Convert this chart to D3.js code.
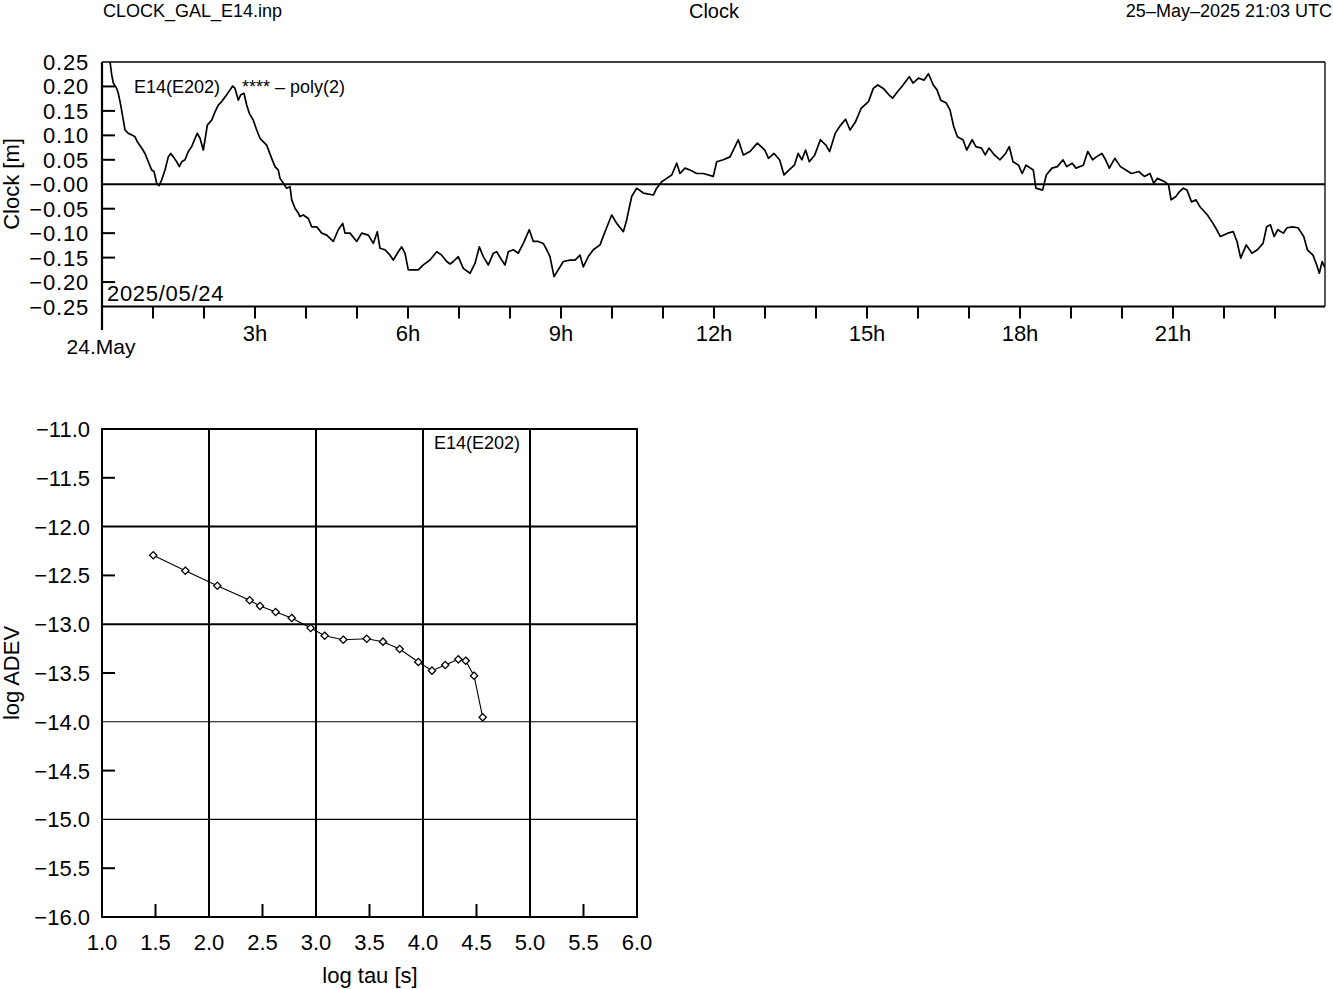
<!DOCTYPE html>
<html><head><meta charset="utf-8">
<script src="https://cdn.jsdelivr.net/npm/d3@7"></script>
<style>
html,body{margin:0;padding:0;background:#fff;}
svg{display:block;font-family:"Liberation Sans",Arial,sans-serif;}
</style></head>
<body>
<svg id="c" width="1333" height="989"></svg>
<script>
// ---------- data ----------
const headerLeft = "CLOCK_GAL_E14.inp";
const headerTitle = "Clock";
const headerRight = "25\u2013May\u20132025 21:03 UTC";
const satLabel = "E14(E202)";
const fitLabel = "**** \u2013 poly(2)";
const dateLabel = "2025/05/24";

// clock series: hours since 2025-05-24 00:00 UTC, values in metres
const clockHours = [0,0.157,0.19,0.222,0.288,0.32,0.367,0.418,0.451,0.516,0.582,0.647,0.692,0.778,0.843,0.908,0.975,1.02,1.073,1.118,1.171,1.235,1.3,1.347,1.398,1.465,1.516,1.563,1.627,1.692,1.759,1.824,1.869,1.922,1.986,2.02,2.065,2.151,2.216,2.28,2.347,2.445,2.51,2.563,2.608,2.673,2.72,2.784,2.837,2.888,2.967,3.033,3.098,3.229,3.327,3.392,3.457,3.49,3.555,3.621,3.686,3.72,3.784,3.849,3.882,3.947,4.045,4.112,4.21,4.308,4.406,4.535,4.633,4.72,4.765,4.863,4.994,5.092,5.222,5.32,5.398,5.451,5.549,5.647,5.712,5.81,5.876,5.941,6.006,6.104,6.202,6.3,6.431,6.563,6.661,6.759,6.824,6.888,6.986,7.084,7.216,7.314,7.398,7.476,7.575,7.673,7.739,7.837,7.902,7.967,8.065,8.163,8.261,8.378,8.457,8.555,8.653,8.72,8.784,8.863,8.947,9.045,9.176,9.275,9.373,9.437,9.535,9.633,9.765,9.863,9.994,10.092,10.222,10.288,10.386,10.484,10.614,10.81,10.876,10.975,11.073,11.171,11.269,11.333,11.431,11.529,11.661,11.79,11.986,12.053,12.182,12.314,12.378,12.476,12.575,12.706,12.851,12.996,13.069,13.176,13.286,13.373,13.469,13.576,13.649,13.724,13.796,13.869,13.976,14.086,14.194,14.267,14.376,14.484,14.58,14.667,14.776,14.884,15.029,15.124,15.212,15.32,15.429,15.502,15.575,15.684,15.829,15.902,16.01,16.12,16.206,16.3,16.373,16.445,16.555,16.627,16.7,16.773,16.882,16.955,17.063,17.135,17.245,17.318,17.392,17.498,17.608,17.718,17.79,17.863,17.971,18.043,18.118,18.261,18.312,18.443,18.516,18.626,18.733,18.843,18.916,19.024,19.098,19.241,19.329,19.424,19.496,19.606,19.678,19.751,19.859,19.969,20.076,20.186,20.331,20.439,20.549,20.622,20.694,20.839,20.912,20.963,21.057,21.129,21.202,21.275,21.363,21.451,21.529,21.675,21.784,21.857,21.929,22.075,22.182,22.255,22.327,22.437,22.547,22.655,22.765,22.837,22.91,22.982,23.055,23.163,23.235,23.345,23.451,23.563,23.635,23.745,23.818,23.869,23.925,23.98];
const clockValues = [0.294,0.251,0.224,0.207,0.196,0.186,0.162,0.131,0.111,0.104,0.101,0.097,0.087,0.074,0.063,0.046,0.029,0.026,0.002,-0.003,0.009,0.029,0.056,0.063,0.056,0.046,0.036,0.046,0.05,0.067,0.077,0.094,0.104,0.094,0.07,0.091,0.121,0.131,0.148,0.162,0.169,0.183,0.193,0.201,0.196,0.172,0.183,0.186,0.162,0.145,0.131,0.111,0.094,0.08,0.053,0.036,0.029,0.012,0.002,-0.008,-0.005,-0.032,-0.049,-0.059,-0.066,-0.063,-0.07,-0.087,-0.087,-0.1,-0.104,-0.117,-0.093,-0.08,-0.1,-0.1,-0.117,-0.1,-0.104,-0.121,-0.097,-0.131,-0.134,-0.145,-0.155,-0.138,-0.128,-0.141,-0.175,-0.175,-0.175,-0.165,-0.155,-0.138,-0.145,-0.158,-0.163,-0.158,-0.148,-0.172,-0.182,-0.162,-0.128,-0.148,-0.165,-0.141,-0.138,-0.155,-0.165,-0.138,-0.134,-0.141,-0.121,-0.093,-0.117,-0.117,-0.121,-0.134,-0.148,-0.189,-0.175,-0.158,-0.155,-0.155,-0.145,-0.169,-0.148,-0.134,-0.124,-0.097,-0.063,-0.08,-0.097,-0.073,-0.025,-0.008,-0.018,-0.022,-0.008,0.005,0.012,0.019,0.043,0.022,0.033,0.029,0.022,0.022,0.016,0.046,0.05,0.056,0.07,0.091,0.06,0.067,0.084,0.07,0.053,0.063,0.05,0.019,0.029,0.039,0.063,0.05,0.07,0.046,0.06,0.091,0.08,0.067,0.104,0.121,0.133,0.111,0.128,0.155,0.169,0.196,0.203,0.196,0.183,0.176,0.186,0.2,0.22,0.207,0.217,0.213,0.226,0.203,0.193,0.172,0.166,0.152,0.118,0.097,0.091,0.07,0.091,0.077,0.074,0.06,0.074,0.06,0.05,0.063,0.077,0.046,0.039,0.022,0.039,0.029,-0.008,-0.012,0.019,0.033,0.036,0.05,0.036,0.043,0.033,0.039,0.067,0.05,0.056,0.063,0.05,0.033,0.053,0.036,0.029,0.022,0.026,0.016,0.022,0.002,0.012,0.005,-0.001,-0.032,-0.025,-0.015,-0.008,-0.012,-0.036,-0.032,-0.046,-0.063,-0.08,-0.093,-0.107,-0.1,-0.097,-0.117,-0.151,-0.124,-0.141,-0.134,-0.121,-0.087,-0.083,-0.107,-0.093,-0.1,-0.089,-0.087,-0.089,-0.107,-0.134,-0.145,-0.165,-0.182,-0.158,-0.171];

const clockYTicks = [0.25,0.20,0.15,0.10,0.05,0.00,-0.05,-0.10,-0.15,-0.20,-0.25];
const clockYLabels = ["0.25","0.20","0.15","0.10","0.05","\u22120.00","\u22120.05","\u22120.10","\u22120.15","\u22120.20","\u22120.25"];
const clockXTicks = [0,3,6,9,12,15,18,21];
const clockXLabels = ["24.May","3h","6h","9h","12h","15h","18h","21h"];

// Allan deviation
const logTau  = [1.479,1.779,2.078,2.380,2.477,2.623,2.773,2.950,3.081,3.255,3.474,3.626,3.782,3.956,4.084,4.208,4.330,4.399,4.477,4.558];
const logAdev = [-12.294,-12.452,-12.606,-12.755,-12.814,-12.875,-12.936,-13.039,-13.118,-13.159,-13.149,-13.179,-13.254,-13.387,-13.476,-13.418,-13.360,-13.374,-13.528,-13.954];
const adevXTicks = [1.0,1.5,2.0,2.5,3.0,3.5,4.0,4.5,5.0,5.5,6.0];
const adevYTicks = [-11.0,-11.5,-12.0,-12.5,-13.0,-13.5,-14.0,-14.5,-15.0,-15.5,-16.0];

// ---------- drawing ----------
const svg = d3.select("#c");
const FS = 22;
const minus = s => s.replace("-", "\u2212");

// header
svg.append("text").attr("x",103).attr("y",17).attr("font-size",18).text(headerLeft);
svg.append("text").attr("x",714).attr("y",18).attr("font-size",20).attr("text-anchor","middle").text(headerTitle);
svg.append("text").attr("x",1332).attr("y",17).attr("font-size",18).attr("text-anchor","end").text(headerRight);

// ---- top clock chart ----
const L = 102, R = 1325, T = 62, B = 306.5;
const x = d3.scaleLinear().domain([0,24]).range([L,R+1]);
const y = d3.scaleLinear().domain([-0.25,0.25]).range([B,T]);

svg.append("defs").append("clipPath").attr("id","clipTop")
  .append("rect").attr("x",L).attr("y",T).attr("width",R-L).attr("height",B-T);

// frame
svg.append("line").attr("x1",L).attr("x2",R).attr("y1",T).attr("y2",T).attr("stroke","#000").attr("stroke-width",1.3);
svg.append("line").attr("x1",R).attr("x2",R).attr("y1",T).attr("y2",B).attr("stroke","#000").attr("stroke-width",1.3);
svg.append("line").attr("x1",L).attr("x2",R).attr("y1",B).attr("y2",B).attr("stroke","#000").attr("stroke-width",2.2);
svg.append("line").attr("x1",L).attr("x2",L).attr("y1",T).attr("y2",330).attr("stroke","#000").attr("stroke-width",2.2);

// y ticks (inward) and labels
svg.append("g").selectAll("line").data(clockYTicks.filter(v=>Math.abs(v)<0.24 && v!==0)).join("line")
  .attr("x1",L).attr("x2",L+13).attr("y1",d=>y(d)).attr("y2",d=>y(d))
  .attr("stroke","#000").attr("stroke-width",2);
svg.append("g").selectAll("text").data(clockYTicks).join("text")
  .attr("x",89).attr("y",d=>y(d)+8).attr("text-anchor","end").attr("font-size",FS)
  .attr("letter-spacing",0.8)
  .text((d,i)=>clockYLabels[i]);

// zero line
svg.append("line").attr("x1",L).attr("x2",R).attr("y1",y(0)).attr("y2",y(0)).attr("stroke","#000").attr("stroke-width",2.2);

// x ticks hourly (outward)
svg.append("g").selectAll("line").data(d3.range(1,24)).join("line")
  .attr("x1",d=>x(d)).attr("x2",d=>x(d)).attr("y1",B).attr("y2",B+12)
  .attr("stroke","#000").attr("stroke-width",2);
svg.append("g").selectAll("text").data(clockXTicks).join("text")
  .attr("x",d=>d===0?x(d)-1:x(d)).attr("y",d=>d===0?354:341)
  .attr("text-anchor","middle").attr("font-size",d=>d===0?21:FS)
  .text((d,i)=>clockXLabels[i]);

svg.append("text").attr("transform","translate(19,184) rotate(-90)").attr("text-anchor","middle")
  .attr("font-size",FS).text("Clock [m]");

// series
const line = d3.line().x((d,i)=>x(clockHours[i])).y(d=>y(d));
svg.append("path").datum(clockValues).attr("clip-path","url(#clipTop)")
  .attr("d",line).attr("fill","none").attr("stroke","#000").attr("stroke-width",1.7)
  .attr("stroke-linejoin","round");

svg.append("text").attr("x",134).attr("y",93).attr("font-size",18).text(satLabel);
svg.append("text").attr("x",242).attr("y",93).attr("font-size",18).text(fitLabel);
svg.append("text").attr("x",107).attr("y",301).attr("font-size",FS).attr("letter-spacing",0.7).text(dateLabel);

// ---- bottom ADEV chart ----
const L2 = 102, R2 = 637, T2 = 429, B2 = 917;
const x2 = d3.scaleLinear().domain([1,6]).range([L2,R2]);
const y2 = d3.scaleLinear().domain([-16,-11]).range([B2,T2]);

// grid
svg.append("g").selectAll("line").data([2,3,4,5]).join("line")
  .attr("x1",d=>x2(d)).attr("x2",d=>x2(d)).attr("y1",T2).attr("y2",B2)
  .attr("stroke","#000").attr("stroke-width",2);
svg.append("g").selectAll("line").data([-12,-13,-14,-15]).join("line")
  .attr("x1",L2).attr("x2",R2).attr("y1",d=>y2(d)).attr("y2",d=>y2(d))
  .attr("stroke","#000").attr("stroke-width",d=>d>=-13?2:1.1);
// frame
svg.append("rect").attr("x",L2).attr("y",T2).attr("width",R2-L2).attr("height",B2-T2)
  .attr("fill","none").attr("stroke","#000").attr("stroke-width",2);
// half ticks
svg.append("g").selectAll("line").data(adevYTicks.filter(v=>v%1!==0)).join("line")
  .attr("x1",L2).attr("x2",L2+13).attr("y1",d=>y2(d)).attr("y2",d=>y2(d))
  .attr("stroke","#000").attr("stroke-width",2);
svg.append("g").selectAll("line").data(adevXTicks.filter(v=>v%1!==0)).join("line")
  .attr("x1",d=>x2(d)).attr("x2",d=>x2(d)).attr("y1",B2).attr("y2",B2-13)
  .attr("stroke","#000").attr("stroke-width",2);
// labels
svg.append("g").selectAll("text").data(adevYTicks).join("text")
  .attr("x",90).attr("y",d=>y2(d)+8).attr("text-anchor","end").attr("font-size",FS)
  .text(d=>minus(d.toFixed(1)));
svg.append("g").selectAll("text").data(adevXTicks).join("text")
  .attr("x",d=>x2(d)).attr("y",950).attr("text-anchor","middle").attr("font-size",FS)
  .text(d=>d.toFixed(1));
svg.append("text").attr("x",370).attr("y",983).attr("text-anchor","middle").attr("font-size",FS).text("log tau [s]");
svg.append("text").attr("transform","translate(19,673) rotate(-90)").attr("text-anchor","middle")
  .attr("font-size",FS).text("log ADEV");
svg.append("text").attr("x",434).attr("y",449).attr("font-size",18).text(satLabel);

// series
const line2 = d3.line().x((d,i)=>x2(logTau[i])).y(d=>y2(d));
svg.append("path").datum(logAdev).attr("d",line2).attr("fill","none").attr("stroke","#000").attr("stroke-width",1.1);
const sym = d3.symbol().type(d3.symbolDiamond2).size(34);
svg.append("g").selectAll("path").data(logAdev).join("path")
  .attr("transform",(d,i)=>`translate(${x2(logTau[i])},${y2(d)})`)
  .attr("d",sym).attr("fill","#fff").attr("stroke","#000").attr("stroke-width",1.3);
</script>
</body></html>
